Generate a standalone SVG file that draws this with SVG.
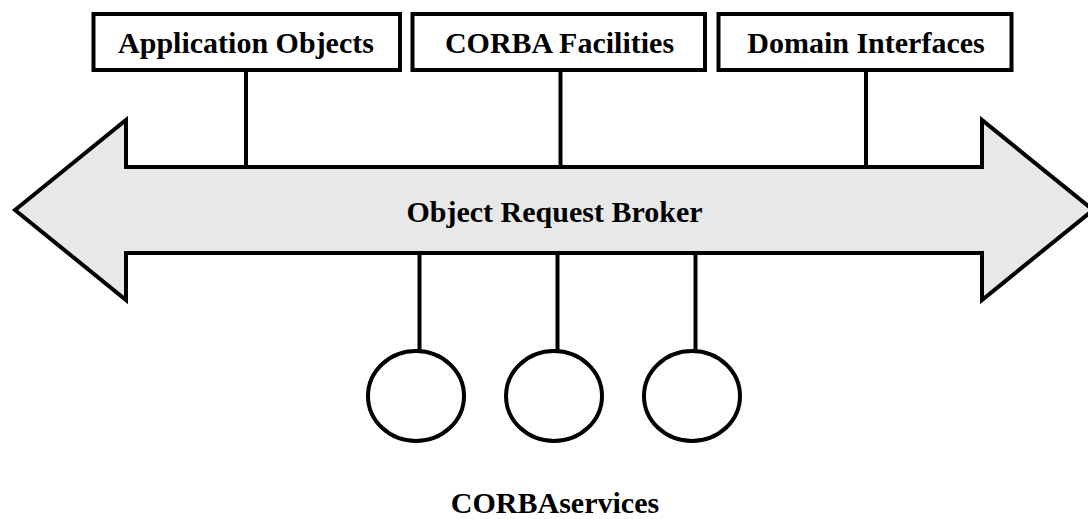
<svg xmlns="http://www.w3.org/2000/svg" width="1088" height="519" viewBox="0 0 1088 519">
  <style>
    .box { fill: #ffffff; stroke: #000000; stroke-width: 4; }
    .orb { fill: #e8e8e8; stroke: #000000; stroke-width: 4; stroke-linejoin: miter; stroke-miterlimit: 10; }
    .svc { fill: #ffffff; stroke: #000000; stroke-width: 4; }
    .link { stroke: #000000; stroke-width: 4; fill: none; }
    .lbl { font-family: 'Liberation Serif', Tinos, 'Times New Roman', 'DejaVu Serif', serif; font-weight: 700; font-size: 30px; fill: #000000; text-anchor: middle; }
  </style>

  <rect width="1088" height="519" fill="#ffffff"/>

  <!-- connectors between the bus and its attached parts -->
  <g id="connectors">
    <line class="link" x1="246" y1="70" x2="246" y2="168"/>
    <line class="link" x1="560.5" y1="70" x2="560.5" y2="168"/>
    <line class="link" x1="866" y1="70" x2="866" y2="168"/>
    <line class="link" x1="419.5" y1="252" x2="419.5" y2="351"/>
    <line class="link" x1="557.5" y1="252" x2="557.5" y2="351"/>
    <line class="link" x1="695.5" y1="252" x2="695.5" y2="351"/>
  </g>

  <!-- double-headed bus arrow -->
  <g id="orb">
    <path class="orb" d="M15,210 L126,120 L126,167 L982,167 L982,120 L1093,210 L982,300 L982,253 L126,253 L126,300 Z"/>
    <text class="lbl" x="554.5" y="222" font-family="Liberation Serif, serif">Object Request Broker</text>
  </g>

  <g id="application-objects">
    <rect class="box" x="93.5" y="14" width="306.5" height="56"/>
    <text class="lbl" x="246" y="53">Application Objects</text>
  </g>

  <g id="corba-facilities">
    <rect class="box" x="412.5" y="14" width="292.5" height="56"/>
    <text class="lbl" x="559.5" y="53">CORBA Facilities</text>
  </g>

  <g id="domain-interfaces">
    <rect class="box" x="718.5" y="14" width="293" height="56"/>
    <text class="lbl" x="866" y="53">Domain Interfaces</text>
  </g>

  <g id="service-1">
    <ellipse class="svc" cx="416" cy="396" rx="48" ry="45"/>
  </g>
  <g id="service-2">
    <ellipse class="svc" cx="554" cy="396" rx="48" ry="45"/>
  </g>
  <g id="service-3">
    <ellipse class="svc" cx="692" cy="396" rx="48" ry="45"/>
  </g>

  <g id="corba-services">
    <text class="lbl" x="555" y="513">CORBAservices</text>
  </g>
</svg>
